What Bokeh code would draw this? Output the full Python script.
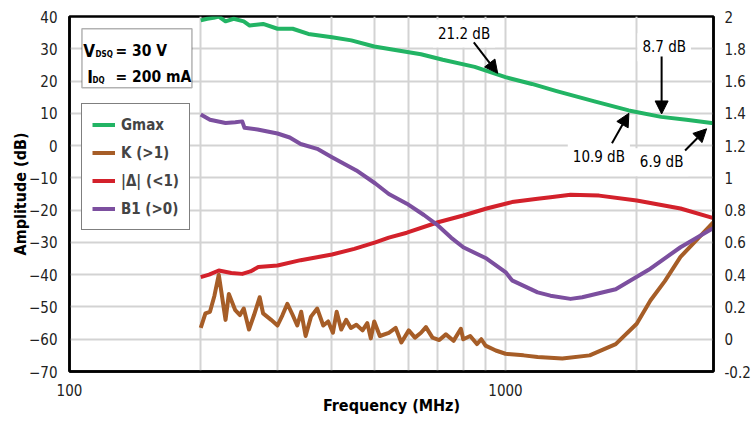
from bokeh.plotting import figure
from bokeh.models import (Range1d, LinearAxis, FixedTicker, CustomJSTickFormatter,
                          Legend, LegendItem, Label, Arrow, NormalHead, BoxAnnotation)
from bokeh.embed import file_html
from bokeh.resources import INLINE

FONT = "DejaVu Sans Condensed"

# ---------------- data ----------------
# Gmax (dB, left axis)
gmax_f = [200, 207, 214, 220, 228, 238, 251, 259, 278, 300, 325, 353, 400, 443, 500,
          554, 640, 718, 850, 961, 1000, 1150, 1310, 1600, 1917, 2276, 2600, 3000]
gmax_v = [38.8, 39.3, 39.6, 40.0, 38.5, 39.3, 38.5, 37.2, 37.7, 36.2, 36.2, 34.6, 33.6,
          32.6, 30.7, 29.7, 28.3, 26.6, 24.4, 22.0, 21.2, 19.1, 16.9, 13.7, 10.9, 8.9,
          8.0, 6.9]

# K (right axis)
k_f = [200, 205, 210, 215, 220, 228, 232, 240, 246, 251, 258, 265, 273, 278, 290, 300,
       308, 316, 325, 333, 340, 348, 358, 370, 382, 392, 402, 410, 420, 431, 442, 455,
       470, 482, 491, 500, 515, 540, 560, 577, 600, 620, 640, 657, 680, 705, 730, 760,
       790, 800, 830, 860, 880, 900, 950, 1000, 1100, 1185, 1350, 1560, 1790, 2000,
       2150, 2320, 2520, 3000]
k_v = [0.07, 0.16, 0.17, 0.27, 0.40, 0.12, 0.28, 0.18, 0.15, 0.19, 0.06, 0.15, 0.26,
       0.16, 0.12, 0.085, 0.15, 0.22, 0.15, 0.085, 0.17, 0.02, 0.14, 0.19, 0.085, 0.11,
       0.04, 0.17, 0.06, 0.12, 0.07, 0.09, 0.055, 0.10, 0.005, 0.11, 0.02, 0.04, 0.07,
       -0.02, 0.055, 0.01, 0.04, 0.075, 0.01, -0.005, 0.03, -0.01, 0.065, 0.0, 0.02,
       -0.03, 0.0, -0.04, -0.07, -0.09, -0.10, -0.11, -0.12, -0.10, -0.03, 0.096, 0.24,
       0.36, 0.51, 0.725]

# |Delta| (right axis)
d_f = [200, 209, 220, 235, 249, 260, 271, 300, 339, 400, 450, 503, 540, 594, 700, 800,
       905, 1035, 1185, 1268, 1410, 1640, 2000, 2520, 3000]
d_v = [0.385, 0.40, 0.426, 0.41, 0.405, 0.42, 0.447, 0.457, 0.49, 0.525, 0.56, 0.60,
       0.63, 0.66, 0.725, 0.767, 0.81, 0.85, 0.87, 0.88, 0.895, 0.89, 0.86, 0.81, 0.75]

# B1 (right axis)
b_f = [200, 210, 228, 240, 249, 252, 270, 300, 320, 339, 370, 400, 455, 503, 540, 594,
       650, 700, 750, 800, 905, 1000, 1035, 1185, 1268, 1410, 1500, 1790, 2130, 2520,
       3000]
b_v = [1.393, 1.36, 1.34, 1.345, 1.35, 1.31, 1.30, 1.275, 1.25, 1.21, 1.18, 1.128,
       1.046, 0.965, 0.90, 0.84, 0.77, 0.705, 0.63, 0.57, 0.50, 0.416, 0.365, 0.29,
       0.27, 0.25, 0.26, 0.31, 0.43, 0.57, 0.69]

X_MIN, X_MAX = 100, 3000
left_ticks = [-70, -60, -50, -40, -30, -20, -10, 0, 10, 20, 30, 40]
right_ticks = [-0.2, 0, 0.2, 0.4, 0.6, 0.8, 1, 1.2, 1.4, 1.6, 1.8, 2]
x_ticks = [100, 1000]
x_grid = [200, 300, 400, 500, 600, 700, 800, 900, 1000, 2000]

series_names = ["Gmax", "K (>1)", "|Δ| (<1)", "B1 (>0)"]
series_colors = ["#22b464", "#a65d27", "#d3212b", "#7c4f9f"]

# ---------------- figure ----------------
p = figure(width=753, height=423, x_axis_type="log",
           x_range=Range1d(X_MIN, X_MAX), y_range=Range1d(-70, 40),
           output_backend="svg", toolbar_location=None,
           min_border_left=69, min_border_right=27, min_border_top=16,
           min_border_bottom=52)
p.extra_y_ranges = {"r": Range1d(-0.2, 2)}
p.background_fill_color = "white"
p.border_fill_color = "white"
p.outline_line_color = "black"
p.outline_line_width = 2.5
p.outline_line_alpha = 1

# grid
p.xgrid.ticker = FixedTicker(ticks=x_grid)
p.ygrid.ticker = FixedTicker(ticks=left_ticks[1:-1])
p.grid.grid_line_color = "#d3d3d3"
p.grid.grid_line_width = 2

# axes
p.xaxis.ticker = FixedTicker(ticks=x_ticks)
p.xaxis.formatter = CustomJSTickFormatter(code="return tick.toFixed(0);")
p.xaxis.axis_label = "Frequency (MHz)"
p.xaxis.major_label_standoff = 6
p.xaxis.axis_label_standoff = -3
p.yaxis.ticker = FixedTicker(ticks=left_ticks)
p.yaxis.axis_label = "Amplitude (dB)"
p.yaxis.major_label_standoff = 6
p.yaxis.axis_label_standoff = -4

ax_r = LinearAxis(y_range_name="r", ticker=FixedTicker(ticks=right_ticks),
                  formatter=CustomJSTickFormatter(code="return String(Math.round(tick*10)/10);"))
ax_r.major_label_standoff = 5
p.add_layout(ax_r, "right")

for ax in p.axis:
    ax.major_tick_line_color = None
    ax.minor_tick_line_color = None
    ax.axis_line_color = "black"
    ax.axis_line_width = 2.5
    ax.major_label_text_font = FONT
    ax.major_label_text_font_size = "15px"
    ax.major_label_text_color = "#222222"
    ax.axis_label_text_font = FONT
    ax.axis_label_text_font_size = "16px"
    ax.axis_label_text_font_style = "bold"
    ax.axis_label_text_color = "black"

# lines
r_g = p.line(gmax_f, gmax_v, line_color=series_colors[0], line_width=4, line_join="round")
r_k = p.line(k_f, k_v, line_color=series_colors[1], line_width=4, line_join="round",
             y_range_name="r")
r_d = p.line(d_f, d_v, line_color=series_colors[2], line_width=4, line_join="round",
             y_range_name="r")
r_b = p.line(b_f, b_v, line_color=series_colors[3], line_width=4, line_join="round",
             y_range_name="r")

legend = Legend(items=[LegendItem(label=n, renderers=[r]) for n, r in
                       zip(series_names, [r_g, r_k, r_d, r_b])],
                location=(12, 141))
legend.border_line_color = "black"
legend.border_line_width = 1.5
legend.background_fill_color = "white"
legend.background_fill_alpha = 1
legend.padding = 10
legend.spacing = 7
legend.margin = 0
legend.glyph_width = 23
legend.glyph_height = 21
legend.label_height = 21
legend.label_standoff = 6
legend.label_text_font = FONT
legend.label_text_font_size = "15px"
legend.label_text_font_style = "bold"
p.add_layout(legend)

# bias condition box
p.add_layout(BoxAnnotation(left=106.8, right=190.9, bottom=17.9, top=36.2,
                           fill_color="white", fill_alpha=1,
                           line_color="black", line_width=1.5, level="annotation"))

def txt(x, y, s, size, style="bold", align="left", baseline="alphabetic", bg=None):
    lab = Label(x=x, y=y, text=s, text_font=FONT, text_font_size=size,
                text_font_style=style, text_align=align, text_baseline=baseline,
                text_color="black")
    if bg:
        lab.background_fill_color = bg
        lab.background_fill_alpha = 1
        lab.padding = 5
    p.add_layout(lab)

txt(107.5, 29.16, "V", "17px")
txt(114.7, 28.2, "DSQ", "8px")
txt(127.5, 29.16, "= 30 V", "15.5px")
txt(109.8, 21.1, "I", "17px")
txt(112.9, 20.17, "DQ", "8px")
txt(127.5, 21.1, "= 200 mA", "15.5px")

# value annotations
txt(803.6, 34.7, "21.2 dB", "15px", style="normal", align="center", baseline="middle", bg="white")
txt(2312, 30.5, "8.7 dB", "15px", style="normal", align="center", baseline="middle", bg="white")
txt(1637.6, -3.6, "10.9 dB", "15px", style="normal", align="center", baseline="middle", bg="white")
txt(2281, -5.15, "6.9 dB", "15px", style="normal", align="center", baseline="middle", bg="white")

for xs, ys, xe, ye in [(846, 32.0, 959.6, 22.4), (2281, 27.6, 2281, 9.8),
                       (1755, 0.74, 1919, 10.0), (2582, -1.5, 2893, 5.2)]:
    p.add_layout(Arrow(end=NormalHead(size=13, fill_color="black", line_color="black"),
                       x_start=xs, y_start=ys, x_end=xe, y_end=ye,
                       line_color="black", line_width=2))

open("out.html", "w").write(file_html(p, INLINE))
